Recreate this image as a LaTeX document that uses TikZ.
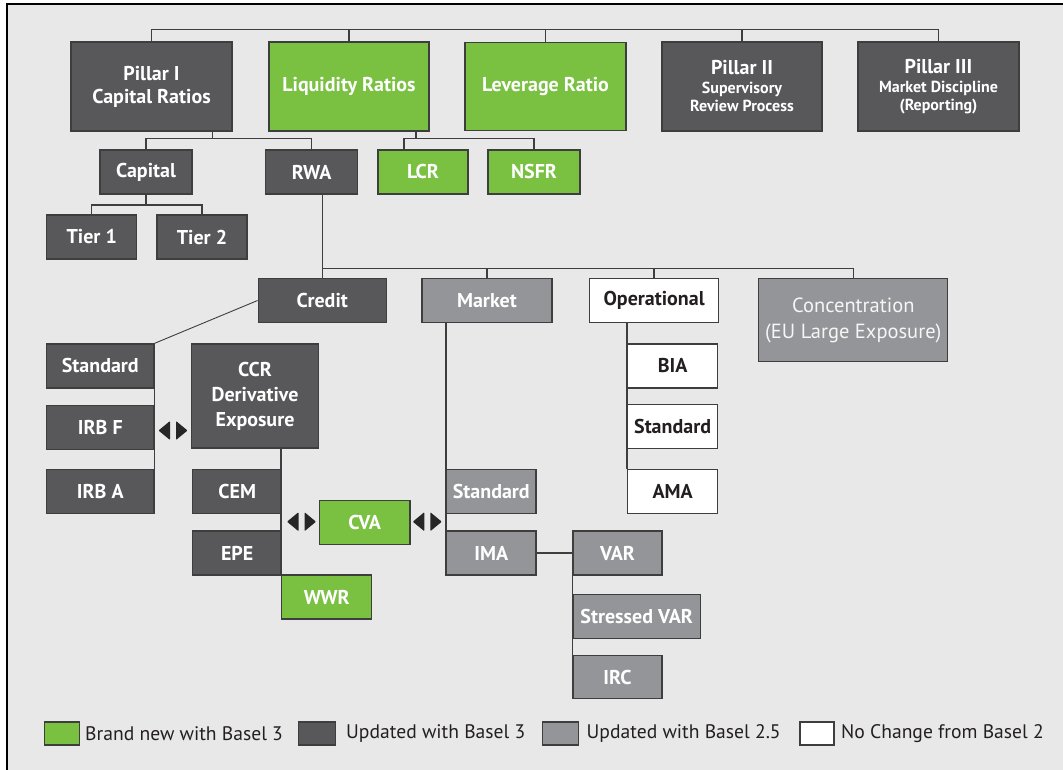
\documentclass[tikz,border=0pt]{standalone}
\usepackage{fontspec}
\setmainfont{PT Sans}
\usetikzlibrary{calc}
\definecolor{bg}{RGB}{232,232,232}
\definecolor{gn}{RGB}{122,193,66}
\definecolor{dk}{RGB}{88,88,90}
\definecolor{md}{RGB}{148,149,152}
\definecolor{ln}{RGB}{62,62,62}
\definecolor{txt}{RGB}{35,31,32}
\definecolor{ltxt}{RGB}{246,246,246}
\tikzset{
 box/.style={draw=ln, line width=1.2pt, inner sep=0pt, align=center,
   font=\fontsize{20}{23}\selectfont\bfseries, text=white},
 gbox/.style={box, fill=gn},
 dbox/.style={box, fill=dk},
 mbox/.style={box, fill=md},
 wbox/.style={box, fill=white, text=txt},
 conn/.style={draw=ln, line width=1.3pt},
 legt/.style={font=\fontsize{19.6}{20}\selectfont, text=txt, anchor=west, inner sep=0pt},
 dblarr/.pic={
   \fill[black!85, rounded corners=0.8pt] (-14.5,0) -- (-3,-9.5) -- (-3,9.5) -- cycle;
   \fill[black!85, rounded corners=0.8pt] (14.5,0) -- (3,-9.5) -- (3,9.5) -- cycle;
 }
}
\begin{document}
\begin{tikzpicture}[x=1pt,y=-1pt]
\useasboundingbox (0,0) rectangle (1063,770);
\fill[white] (0,0) rectangle (1063,770);
\fill[bg] (7,4) rectangle (1063,770);
\draw[black, line width=2pt] (7,770) -- (7,4) -- (1063,4);

% top row
\node[dbox, minimum width=161pt, minimum height=89pt] (p1) at (151.5,86.5) {Pillar I\\Capital Ratios};
\node[gbox, minimum width=160pt, minimum height=89pt] (liq) at (349,86.5) {Liquidity Ratios};
\node[gbox, minimum width=161pt, minimum height=88pt] (lev) at (545.5,86.5) {Leverage Ratio};
\node[dbox, minimum width=160pt, minimum height=89pt] (p2) at (742,86.5)
  {Pillar II\\[-4pt]{\fontsize{16}{17}\selectfont Supervisory}\\[-5pt]{\fontsize{16}{17}\selectfont Review Process}};
\node[dbox, minimum width=161pt, minimum height=89pt] (p3) at (938.5,86.5)
  {Pillar III\\[-4pt]{\fontsize{16}{17}\selectfont Market Discipline}\\[-5pt]{\fontsize{16}{17}\selectfont (Reporting)}};

% second row
\node[dbox, minimum width=92pt, minimum height=44pt] (cap) at (146,172) {Capital};
\node[dbox, minimum width=92pt, minimum height=44pt] (rwa) at (311.7,172) {RWA};
\node[gbox, minimum width=90pt, minimum height=44pt] (lcr) at (423,172) {LCR};
\node[gbox, minimum width=92pt, minimum height=44pt] (nsfr) at (534,172) {NSFR};

\node[dbox, minimum width=90pt, minimum height=44pt] (t1) at (91.7,237) {Tier 1};
\node[dbox, minimum width=90pt, minimum height=44pt] (t2) at (202,237) {Tier 2};

% RWA children
\node[dbox, minimum width=128pt, minimum height=44pt] (credit) at (322.2,300.5) {Credit};
\node[mbox, minimum width=130pt, minimum height=44pt] (market) at (486.9,300.5) {Market};
\node[wbox, minimum width=129pt, minimum height=44pt] (oper) at (654.1,300.5) {Operational};
\node[mbox, minimum width=189pt, minimum height=83pt, text=ltxt,
  font=\fontsize{20.5}{26}\selectfont] (conc) at (853.3,320) {Concentration\\(EU Large Exposure)};

% credit
\node[dbox, minimum width=107.5pt, minimum height=44pt] (cstd) at (100.3,365.9) {Standard};
\node[dbox, minimum width=107.5pt, minimum height=44pt] (irbf) at (100.3,427.7) {IRB F};
\node[dbox, minimum width=107.5pt, minimum height=44pt] (irba) at (100.3,491.3) {IRB A};
\node[dbox, minimum width=126.4pt, minimum height=104pt, font=\fontsize{20}{25}\selectfont\bfseries] (ccr) at (255,396) {CCR\\Derivative\\Exposure};
\node[dbox, minimum width=89pt, minimum height=44pt] (cem) at (237.2,491.2) {CEM};
\node[dbox, minimum width=89pt, minimum height=44pt] (epe) at (237.2,552.9) {EPE};
\node[gbox, minimum width=90pt, minimum height=44pt] (wwr) at (326.7,597) {WWR};
\node[gbox, minimum width=90.7pt, minimum height=44pt] (cva) at (364.7,522.3) {CVA};

% market
\node[mbox, minimum width=89.3pt, minimum height=44pt] (mstd) at (491.3,491.3) {Standard};
\node[mbox, minimum width=89.3pt, minimum height=44pt] (ima) at (491.3,553) {IMA};
\node[mbox, minimum width=89pt, minimum height=44pt] (var) at (617.5,553) {VAR};
\node[mbox, minimum width=127.4pt, minimum height=44pt] (svar) at (636.7,616.3) {Stressed VAR};
\node[mbox, minimum width=89pt, minimum height=43pt] (irc) at (617.5,677.2) {IRC};

% operational
\node[wbox, minimum width=90pt, minimum height=44pt] (bia) at (672.6,365.9) {BIA};
\node[wbox, minimum width=90pt, minimum height=44pt] (ostd) at (672.6,426.2) {Standard};
\node[wbox, minimum width=90pt, minimum height=44pt] (ama) at (672.6,491.3) {AMA};

% connectors
\coordinate (topbar) at (0,29.5);
\coordinate (b1) at (0,138.3);
\coordinate (b2) at (0,205);
\coordinate (b3) at (0,268.3);
\draw[conn] (p1.north) -- (p1.north |- topbar) -- (p3.north |- topbar) -- (p3.north);
\foreach \n in {liq,lev,p2} \draw[conn] (\n.north) -- (\n.north |- topbar);

\coordinate (p1d) at ($(p1.south)+(61,0)$);
\draw[conn] (p1d) -- (p1d |- b1);
\draw[conn] (cap.north) |- (rwa.north |- b1) -- (rwa.north);

\coordinate (liqd) at ($(liq.south)+(67,0)$);
\coordinate (lcrt) at ($(lcr.north)+(-19,0)$);
\draw[conn] (liqd) -- (liqd |- b1);
\draw[conn] (lcrt) |- (nsfr.north |- b1) -- (nsfr.north);

\draw[conn] (cap.south) -- (cap.south |- b2);
\draw[conn] (t1.north) |- (t2.north |- b2) -- (t2.north);

\draw[conn] (rwa.south -| credit.north) -- (credit.north);
\draw[conn] (credit.north |- b3) -- (conc.north |- b3);
\foreach \n in {market,oper,conc} \draw[conn] (\n.north |- b3) -- (\n.north);

\draw[draw=ln, line width=0.9pt] (credit.west) -- (cstd.north east);
\draw[conn] (cstd.north east) -- (irba.north east);
\draw[conn] (ccr.south -| wwr.north west) -- (wwr.north west);
\draw[conn] (market.south -| ima.west) -- (ima.south west);
\draw[conn] (oper.south -| bia.west) -- (ama.north west);
\draw[conn] (ima.east) -- (ima.east -| var.west);
\draw[conn] (var.north west) -- (irc.south west);

% markers
\pic (m1) at (173,430.5) {dblarr};
\pic (m2) at (301.5,521.7) {dblarr};
\pic (m3) at (427.3,521.7) {dblarr};

% legend
\node[gbox, minimum width=35pt, minimum height=23pt] (lg1) at (61.7,733.5) {};
\node[legt] (lt1) at (85,733.5) {Brand new with Basel 3};
\node[dbox, minimum width=37pt, minimum height=23pt] (lg2) at (316.8,733.5) {};
\node[legt] (lt2) at (346,733.5) {Updated with Basel 3};
\node[mbox, minimum width=36pt, minimum height=23pt] (lg3) at (560.3,733.5) {};
\node[legt] (lt3) at (586.5,733.5) {Updated with Basel 2.5};
\node[wbox, minimum width=34pt, minimum height=23pt] (lg4) at (817,733.5) {};
\node[legt] (lt4) at (841,733.5) {No Change from Basel 2};
\end{tikzpicture}
\end{document}
